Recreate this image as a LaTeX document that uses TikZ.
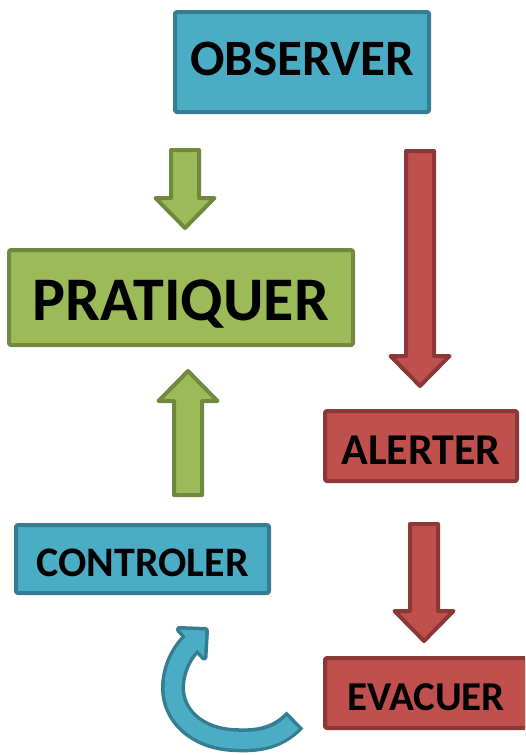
\documentclass[tikz,border=0pt]{standalone}
\usepackage{fontspec}
\setmainfont{Carlito}
\usetikzlibrary{calc}
\definecolor{ttaacc}{rgb}{0.294,0.675,0.776}
\definecolor{zzrrtt}{rgb}{0.208,0.490,0.569}
\definecolor{ccbbtt}{rgb}{0.608,0.733,0.349}
\definecolor{xxttqq}{rgb}{0.443,0.537,0.247}
\definecolor{ccttuu}{rgb}{0.753,0.314,0.302}
\definecolor{ttcczz}{rgb}{0.549,0.220,0.212}
\tikzset{
	boite/.style={draw,line width=4pt,rounded corners=2pt,inner sep=0pt,text depth=0pt},
	boitebleue/.style={boite,draw=zzrrtt,fill=ttaacc},
	boiteverte/.style={boite,draw=xxttqq,fill=ccbbtt},
	boiterouge/.style={boite,draw=ttcczz,fill=ccttuu},
	flecheverte/.style={draw=xxttqq,fill=ccbbtt,line width=4pt},
	flecherouge/.style={draw=ttcczz,fill=ccttuu,line width=4pt}
}
% fleche pleine : depart, pointe, style
\newcommand{\flechebloc}[3]{%
	\coordinate (fb) at ($(#2)!30pt!(#1)$);
	\draw[#3] ($(#1)!14pt!90:(#2)$) -- ($(fb)!14pt!-90:(#1)$) -- ($(fb)!29.5pt!-90:(#1)$) -- (#2)
		-- ($(fb)!29.5pt!90:(#1)$) -- ($(fb)!14pt!90:(#1)$) -- ($(#1)!14pt!-90:(#2)$) -- cycle;}

\begin{document}
\begin{tikzpicture}[line cap=round,line join=round,x=1pt,y=-1pt]
	\clip(0,0) rectangle (525,755);
	\node[boitebleue,minimum width=254,minimum height=100,text height=33pt,text depth=6pt,font=\bfseries\fontsize{51}{51}\selectfont] (observer) at (302,62) {OBSERVER};
	\node[boiteverte,minimum width=344,minimum height=95,text height=45pt,font=\bfseries\fontsize{62}{62}\selectfont] (pratiquer) at (181,297.5) {PRATIQUER};
	\node[boiterouge,minimum width=192,minimum height=70,text height=37pt,font=\bfseries\fontsize{44}{44}\selectfont] (alerter) at (421,446) {ALERTER};
	\node[boitebleue,minimum width=253,minimum height=68,text height=34pt,font=\bfseries\fontsize{42}{42}\selectfont] (controler) at (142.5,559) {CONTROLER};
	\node[boiterouge,minimum width=202,minimum height=70,text height=35.5pt,font=\bfseries\fontsize{41}{41}\selectfont] (evacuer) at (426,693) {EVACUER};
	\coordinate (v1a) at (185,150);
	\coordinate (v1b) at (185,228);
	\coordinate (r1a) at (420,151);
	\coordinate (r1b) at (420,386);
	\coordinate (v2a) at (188,495);
	\coordinate (v2b) at (188,371);
	\coordinate (r2a) at (424,524);
	\coordinate (r2b) at (424,641);
	\flechebloc{v1a}{v1b}{flecheverte}
	\flechebloc{r1a}{r1b}{flecherouge}
	\flechebloc{v2a}{v2b}{flecheverte}
	\flechebloc{r2a}{r2b}{flecherouge}
	% fleche courbe
	\coordinate (ca) at (295,720);
	\coordinate (cb) at (195,640);
	\draw[zzrrtt,line width=24pt,line cap=butt] (ca) .. controls (275,741) and (252,741) .. (233,740) .. controls (196,738) and (173,715) .. (173,688) .. controls (173,668) and (183,650) .. (cb);
	\draw[zzrrtt,line width=7pt] (179.5,629.5) -- (205.5,630.5) -- (204,657) -- cycle;
	\draw[ttaacc,line width=17pt,line cap=butt,shorten <=3.5pt] (ca) .. controls (275,741) and (252,741) .. (233,740) .. controls (196,738) and (173,715) .. (173,688) .. controls (173,668) and (183,650) .. (cb);
	\fill[ttaacc] (179.5,629.5) -- (205.5,630.5) -- (204,657) -- cycle;
\end{tikzpicture}
\end{document}
